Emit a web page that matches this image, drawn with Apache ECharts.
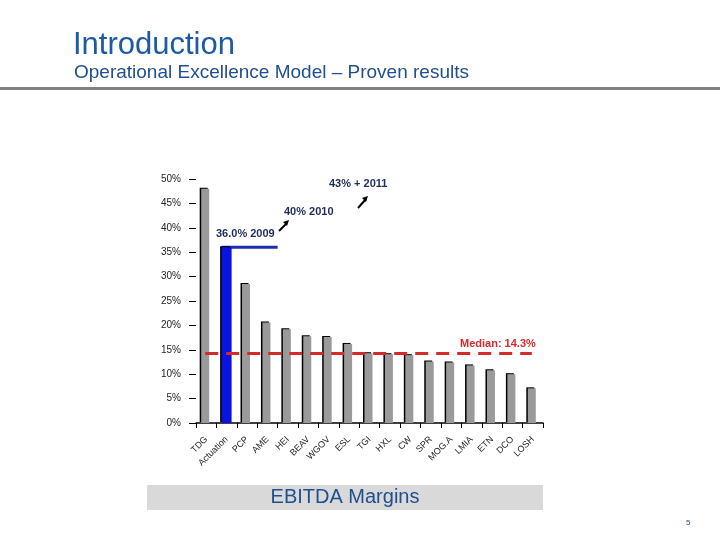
<!DOCTYPE html>
<html><head><meta charset="utf-8">
<script src="https://cdn.jsdelivr.net/npm/echarts@6/dist/echarts.min.js"></script>
<style>html,body{margin:0;padding:0;background:#fff}#c{width:720px;height:540px}</style>
</head><body><div id="c"></div>
<script>
const categories = ['TDG','Actuation','PCP','AME','HEI','BEAV','WGOV','ESL','TGI','HXL','CW','SPR','MOG.A','LMIA','ETN','DCO','LOSH'];
const margins = [48.0,36.0,28.5,20.6,19.2,17.8,17.6,16.2,14.3,14.1,13.9,12.6,12.4,11.8,10.8,10.0,7.1];
const highlight = 'Actuation';
const median = 14.3;
const target2009 = 36.0;
const yTicks = [0,5,10,15,20,25,30,35,40,45,50];

const chart = echarts.init(document.getElementById('c'));
const font = 'Liberation Sans, Arial, sans-serif';
const grayData = margins.map((v,i)=>categories[i]===highlight?null:v);
const blueData = margins.map((v,i)=>categories[i]===highlight?v:null);
const shadow = {shadowColor:'#000',shadowBlur:0,shadowOffsetX:-1.5,shadowOffsetY:-1};

chart.setOption({
  animation:false,
  textStyle:{fontFamily:font},
  grid:{left:196,right:177,top:179,bottom:117},
  xAxis:{type:'category',data:categories,
    axisLine:{lineStyle:{color:'#000',width:1.5}},
    axisTick:{show:true,length:5,lineStyle:{color:'#000'}},
    axisLabel:{rotate:45,fontSize:9,color:'#222',margin:15,interval:0}},
  yAxis:{type:'value',min:yTicks[0],max:yTicks[yTicks.length-1],interval:5,
    axisLine:{show:false},splitLine:{show:false},
    axisTick:{show:true,inside:false,length:7,lineStyle:{color:'#000'}},
    axisLabel:{formatter:'{value}%',fontSize:10,color:'#222',margin:15}},
  series:[
    {type:'bar',data:grayData,barWidth:8,itemStyle:Object.assign({color:'#9a9a9a'},shadow),
     markLine:{symbol:'none',silent:true,
       lineStyle:{color:'#d42a2a',type:[13,8],width:3},
       label:{show:false},
       data:[[{coord:[categories[0],median]},{coord:[categories[categories.length-1],median]}]]}},
    {type:'bar',data:blueData,barWidth:10,barGap:'-100%',itemStyle:Object.assign({color:'#0a14e0'},shadow)}
  ]
});

const p0 = chart.convertToPixel({xAxisIndex:0,yAxisIndex:0},[1,target2009]);
const pA = chart.convertToPixel({xAxisIndex:0,yAxisIndex:0},[3,target2009]);
const pB = chart.convertToPixel({xAxisIndex:0,yAxisIndex:0},[4,target2009]);
const xEnd = (pA[0]+pB[0])/2;
const pm = chart.convertToPixel({xAxisIndex:0,yAxisIndex:0},[categories.length-1,median]);
const navy = '#1f2d5a';
chart.setOption({graphic:[
  {type:'text',left:73,top:30,style:{text:'Introduction',font:'31px '+font,fill:'#1c5aa6',shadowColor:'rgba(0,0,0,0.3)',shadowOffsetX:1.5,shadowOffsetY:1.5,shadowBlur:0}},
  {type:'text',left:74,top:63,style:{text:'Operational Excellence Model – Proven results',font:'19px '+font,fill:'#1f4f8f'}},
  {type:'rect',shape:{x:0,y:87,width:720,height:3},style:{fill:'#808080'}},
  {type:'line',shape:{x1:p0[0]-5,y1:p0[1],x2:xEnd,y2:p0[1]},style:{stroke:'#1a2fb0',lineWidth:3}},
  {type:'text',x:216,y:228,style:{text:'36.0% 2009',font:'bold 11px '+font,fill:navy}},
  {type:'line',shape:{x1:279,y1:231,x2:287,y2:223},style:{stroke:'#000',lineWidth:2}},
  {type:'polygon',shape:{points:[[289,220],[283,222],[287,226]]},style:{fill:'#000'}},
  {type:'text',x:284,y:206,style:{text:'40% 2010',font:'bold 11px '+font,fill:navy}},
  {type:'line',shape:{x1:358,y1:208,x2:366,y2:199},style:{stroke:'#000',lineWidth:2}},
  {type:'polygon',shape:{points:[[368,196],[362,198],[366,202]]},style:{fill:'#000'}},
  {type:'text',x:329,y:178,style:{text:'43% + 2011',font:'bold 11px '+font,fill:navy}},
  {type:'text',x:pm[0]+3,y:pm[1]-15,style:{text:'Median: '+median+'%',font:'bold 11px '+font,fill:'#d42a2a',align:'right'}},
  {type:'rect',shape:{x:147,y:485,width:396,height:25},style:{fill:'#d9d9d9'}},
  {type:'text',x:345,y:497.5,style:{text:'EBITDA Margins',font:'20px '+font,fill:'#1f4f8f',align:'center',verticalAlign:'middle'}},
  {type:'text',x:686,y:519,style:{text:'5',font:'8px '+font,fill:'#1f4f8f'}}
]});
</script></body></html>
